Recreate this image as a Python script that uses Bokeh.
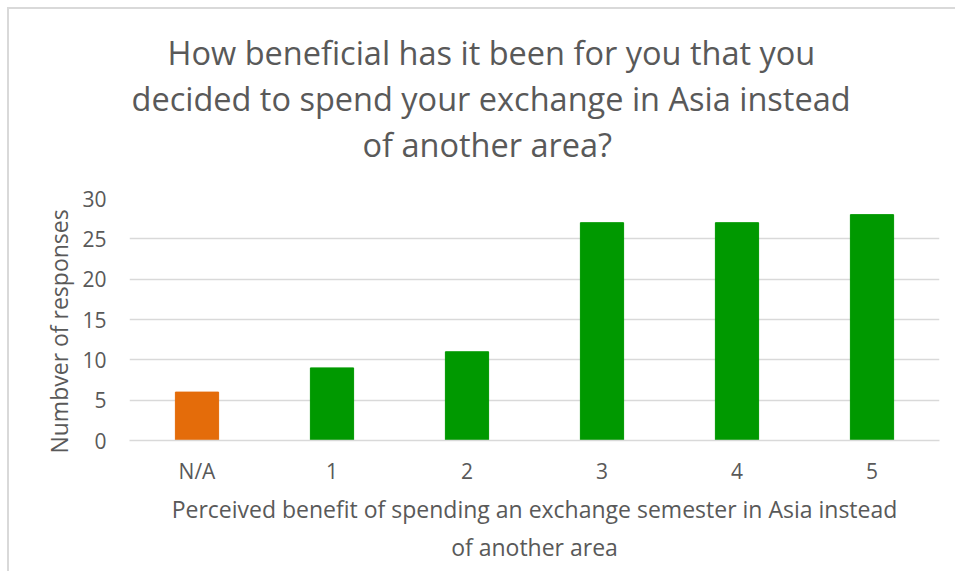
from bokeh.plotting import figure
from bokeh.models import Title, ColumnDataSource
from bokeh.embed import file_html
from bokeh.resources import INLINE

categories = ["N/A", "1", "2", "3", "4", "5"]
responses = [6, 9, 11, 27, 27, 28]
bar_colors = ["#E46C0A", "#009900", "#009900", "#009900", "#009900", "#009900"]
title_lines = [
    "How beneficial has it been for you that you",
    "decided to spend your exchange in Asia instead",
    "of another area?",
]
x_label = "Perceived benefit of spending an exchange semester in Asia instead\nof another area"
y_label = "Numbver of responses"

FONT = "Open Sans"
GREY = "#595959"

src = ColumnDataSource(dict(cat=categories, val=responses, color=bar_colors))

p = figure(
    x_range=categories, y_range=(0, 30),
    width=948, height=564,
    output_backend="svg", toolbar_location=None,
    min_border_left=120, min_border_right=18,
    min_border_top=189, min_border_bottom=133,
    styles={"margin-left": "7px", "margin-top": "7px",
            "border-left": "2px solid #d9d9d9", "border-top": "2px solid #d9d9d9",
            "border-right": "none", "border-bottom": "none", "box-shadow": "none"},
)
p.vbar(x="cat", top="val", width=0.32, color="color", source=src)

p.outline_line_color = None
p.xgrid.grid_line_color = None
p.ygrid.grid_line_color = "#d9d9d9"
p.ygrid.grid_line_width = 1.3

p.yaxis.ticker = [0, 5, 10, 15, 20, 25, 30]
p.yaxis.axis_line_color = None
p.yaxis.major_tick_line_color = None
p.yaxis.minor_tick_line_color = None
p.yaxis.major_label_text_font = FONT
p.yaxis.major_label_text_font_size = "21px"
p.yaxis.major_label_text_color = GREY
p.yaxis.major_label_standoff = 17
p.yaxis.axis_label = y_label + "\u00a0\u00a0\u00a0\u00a0"
p.yaxis.axis_label_text_font = FONT
p.yaxis.axis_label_text_font_size = "23px"
p.yaxis.axis_label_text_font_style = "normal"
p.yaxis.axis_label_text_color = GREY
p.yaxis.axis_label_standoff = 4

p.xaxis.axis_line_color = "#d9d9d9"
p.xaxis.axis_line_width = 1.5
p.xaxis.major_tick_line_color = None
p.xaxis.minor_tick_line_color = None
p.xaxis.major_label_text_font = FONT
p.xaxis.major_label_text_font_size = "21px"
p.xaxis.major_label_text_color = GREY
p.xaxis.major_label_standoff = 10
p.xaxis.axis_label = x_label
p.xaxis.axis_label_text_font = FONT
p.xaxis.axis_label_text_font_size = "23px"
p.xaxis.axis_label_text_font_style = "normal"
p.xaxis.axis_label_text_color = GREY
p.xaxis.axis_label_standoff = 5

# spacer between title block and plot frame
p.add_layout(Title(text=" ", text_font_size="10px", standoff=19), "above")
title_offsets = [38, 2, 233]
for line, off in reversed(list(zip(title_lines, title_offsets))):
    p.add_layout(Title(text=line, align="left", offset=off,
                       text_font=FONT, text_font_size="32.5px",
                       text_font_style="normal", text_color=GREY,
                       standoff=-1), "above")

open("out.html", "w").write(file_html(p, INLINE))
